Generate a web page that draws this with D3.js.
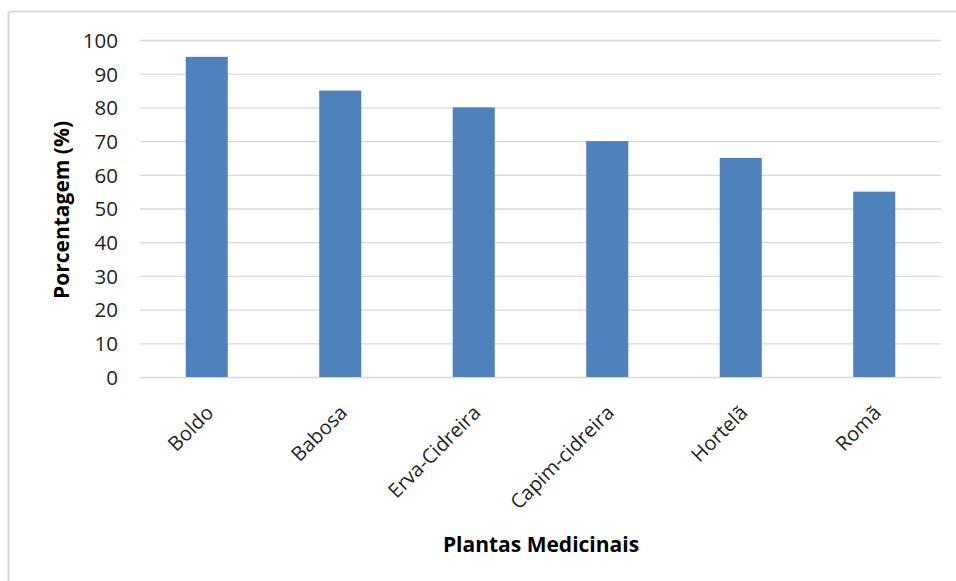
<!DOCTYPE html>
<html><head><meta charset="utf-8">
<script src="https://cdn.jsdelivr.net/npm/d3@7"></script>
<style>body{margin:0;background:#fff}svg{display:block}</style>
</head><body>
<script>
const categories = ["Boldo","Babosa","Erva-Cidreira","Capim-cidreira","Hortelã","Romã"];
const values = [95,85,80,70,65,55];
const yTicks = [0,10,20,30,40,50,60,70,80,90,100];
const yTitle = "Porcentagem (%)";
const xTitle = "Plantas Medicinais";

const W=956,H=581;
const m={left:140,right:15,top:40,bottom:204};
const svg=d3.select("body").append("svg").attr("width",W).attr("height",H);
svg.append("rect").attr("x",8.5).attr("y",11.5).attr("width",W+20).attr("height",H+20)
  .attr("rx",3).attr("fill","#fff").attr("stroke","#D9D9D9").attr("stroke-width",2);

const x=d3.scaleBand().domain(categories).range([m.left,W-m.right]).paddingInner(0.685).paddingOuter(0.3425);
const y=d3.scaleLinear().domain([0,100]).range([H-m.bottom,m.top]);
const font="'Open Sans', sans-serif";

const g=svg.append("g");
g.selectAll("line.grid").data(yTicks).join("line").attr("class","grid")
  .attr("x1",m.left).attr("x2",W-m.right).attr("y1",d=>y(d)+0.5).attr("y2",d=>y(d)+0.5)
  .attr("stroke","#D9D9D9").attr("stroke-width",1.3);

const yAxis=svg.append("g").attr("transform",`translate(${m.left-22},0)`)
  .call(d3.axisLeft(y).tickValues(yTicks).tickSize(0).tickPadding(0));
yAxis.select(".domain").remove();
yAxis.selectAll("text").attr("font-family",font).attr("font-size",20.5).attr("fill","#1f1f1f").attr("dy","0.36em");

g.selectAll("rect.bar").data(values).join("rect").attr("class","bar")
  .attr("x",(d,i)=>x(categories[i])).attr("width",x.bandwidth())
  .attr("y",d=>y(d)).attr("height",d=>y(0)-y(d)).attr("fill","#4F81BD");

const xAxis=svg.append("g").attr("transform",`translate(0,${y(0)})`)
  .call(d3.axisBottom(x).tickSize(0).tickPadding(0));
xAxis.select(".domain").remove();
xAxis.selectAll("text").attr("font-family",font).attr("font-size",20).attr("fill","#1f1f1f")
  .attr("text-anchor","end").attr("dy",null).attr("y",null)
  .attr("transform","translate(8,37) rotate(-45)");

svg.append("text").attr("transform",`translate(69,210) rotate(-90)`).attr("text-anchor","middle")
  .attr("font-family",font).attr("font-weight","bold").attr("font-size",21).attr("fill","#000").text(yTitle);
svg.append("text").attr("x",541).attr("y",552).attr("text-anchor","middle")
  .attr("font-family",font).attr("font-weight","bold").attr("font-size",21).attr("fill","#000").text(xTitle);
</script>
</body></html>
